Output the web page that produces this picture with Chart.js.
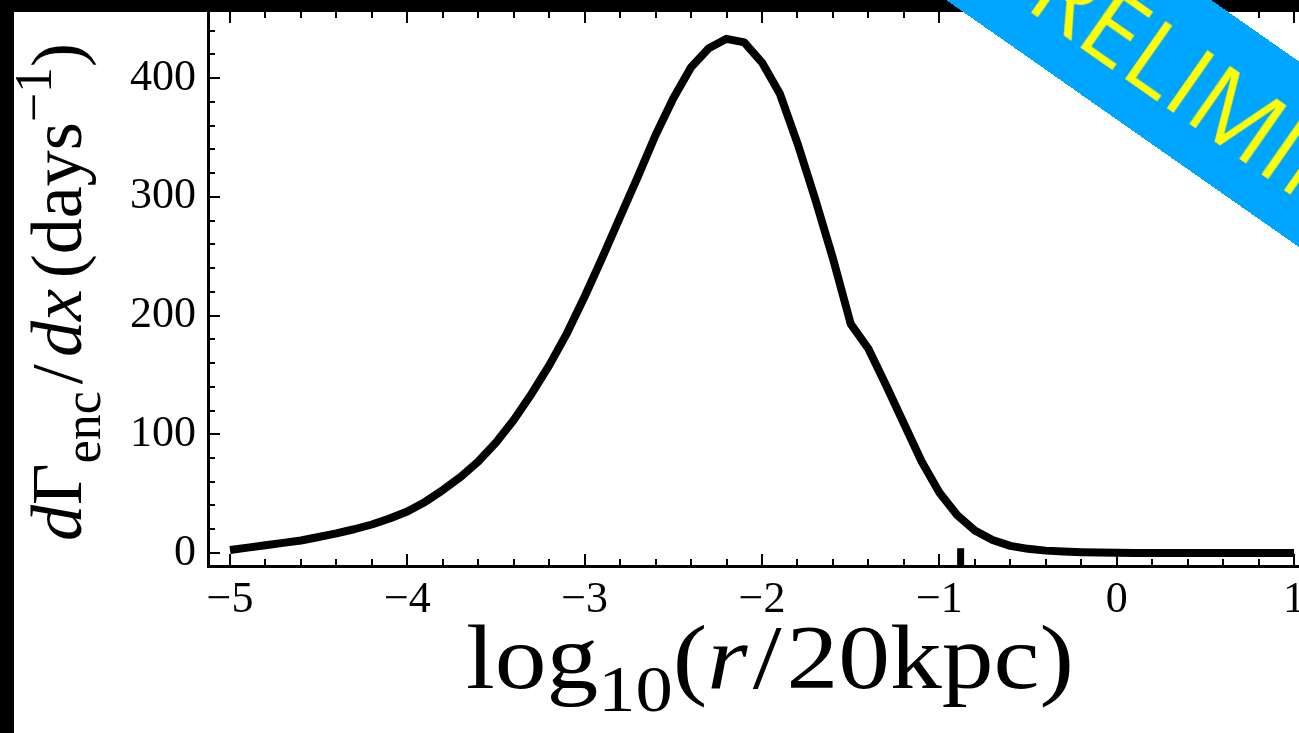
<!DOCTYPE html>
<html>
<head>
<meta charset="utf-8">
<script src="https://cdn.jsdelivr.net/npm/chart.js@4.4.1/dist/chart.umd.min.js"></script>
<style>
  html, body { margin: 0; padding: 0; width: 1299px; height: 733px; overflow: hidden; background: #000; }
  #panel { position: absolute; left: 14px; top: 12px; width: 1285px; height: 721px; background: #fff; }
  #banner {
    position: absolute; left: 1250px; top: 120px; width: 1300px; height: 152px;
    line-height: 152px; text-align: center; background: #00a5ff; color: #ffff00;
    font-family: "Open Sans", sans-serif; font-size: 98px; white-space: nowrap;
    transform: translate(-50%, -50%) rotate(35deg);
  }
</style>
</head>
<body>
<div id="panel"><canvas id="chart"></canvas></div>
<div id="banner">PRELIMINARY</div>
<script>
// log10(r/20kpc) sample points
const xValues = [
  -5.0, -4.9, -4.8, -4.7, -4.6, -4.5, -4.4, -4.3, -4.2, -4.1,
  -4.0, -3.9, -3.8, -3.7, -3.6, -3.5, -3.4, -3.3, -3.2, -3.1,
  -3.0, -2.9, -2.8, -2.7, -2.6, -2.5, -2.4, -2.3, -2.2, -2.1,
  -2.0, -1.9, -1.8, -1.7, -1.6, -1.5, -1.4, -1.3, -1.2, -1.1,
  -1.0, -0.9, -0.8, -0.7, -0.6, -0.5, -0.4, -0.3, -0.2, -0.1,
  0.0, 0.1, 0.2, 0.3, 0.4, 0.5, 0.6, 0.7, 0.8, 0.9, 1.0
];
// dGamma_enc/dx (days^-1)
const rateValues = [
  2.5, 4.5, 6.5, 8.5, 10.5, 13.5, 16.5, 20, 24, 29,
  35, 43, 53, 64, 77, 93, 112, 134, 158, 185,
  216, 249, 283, 317, 352, 383, 409, 425, 433, 430,
  413, 387, 345, 298, 248, 193, 172, 141, 109, 77,
  51, 32, 19, 11, 6, 3.5, 2, 1.2, 0.7, 0.4,
  0.2, 0.1, 0.1, 0, 0, 0, 0, 0, 0, 0, 0
];
// short thick marker sitting on the x axis
const markerX = [-0.88, -0.88];
const markerY = [-11, 4];

const xMin = -5.124, xMax = 1.028;
const yMin = -10.95, yMax = 455.6;

const serif = '"Liberation Serif", "Times New Roman", serif';

function isWhole(v) {
  return Math.abs(v - Math.round(v)) < 1e-6;
}

// inward ticks, longer on labelled values, mirrored on top edge
const tickPlugin = {
  id: 'inTicks',
  afterDraw(chart) {
    const { ctx, chartArea: a, scales: { x, y } } = chart;
    ctx.save();
    ctx.strokeStyle = '#000';
    ctx.lineWidth = 2;
    ctx.beginPath();
    x.ticks.forEach(t => {
      const px = Math.round(x.getPixelForValue(t.value));
      const major = isWhole(t.value);
      ctx.moveTo(px, a.bottom);
      ctx.lineTo(px, a.bottom - (major ? 12 : 7));
      ctx.moveTo(px, a.top);
      ctx.lineTo(px, a.top + (major ? 11 : 6));
    });
    y.ticks.forEach(t => {
      const py = Math.round(y.getPixelForValue(t.value));
      const major = Math.abs(t.value % 100) < 1e-6;
      ctx.moveTo(a.left, py);
      ctx.lineTo(a.left + (major ? 12 : 7), py);
    });
    ctx.stroke();
    ctx.restore();
  }
};

// draw a run of text pieces with sub/superscripts, centred on 0, baseline at 0
function drawRich(ctx, runs, size) {
  const parts = runs.map(r => {
    const s = (r.sub || r.sup) ? size * 0.72 : size;
    const font = (r.it ? 'italic ' : '') + s + 'px ' + serif;
    ctx.font = font;
    const w = ctx.measureText(r.t).width + (r.gap || 0) * size;
    return { r, font, w };
  });
  const total = parts.reduce((sum, p) => sum + p.w, 0);
  let cx = -total / 2;
  parts.forEach(p => {
    ctx.font = p.font;
    let dy = 0;
    if (p.r.sub) dy = size * 0.26;
    if (p.r.sup) dy = -size * 0.42;
    ctx.fillText(p.r.t, cx, dy);
    cx += p.w;
  });
}

const xTitle = [
  { t: 'log' }, { t: '10', sub: 1 }, { t: '(' }, { t: 'r', it: 1, gap: 0.05 },
  { t: '/', gap: 0.05 }, { t: '20kpc' }, { t: ')' }
];
const yTitle = [
  { t: 'd', it: 1 }, { t: '\u0393' }, { t: 'enc', sub: 1, gap: 0.1 },
  { t: '/', gap: 0.1 }, { t: 'dx', it: 1, gap: 0.15 }, { t: '(days' },
  { t: '\u22121', sup: 1 }, { t: ')' }
];

const titlePlugin = {
  id: 'richTitles',
  afterDraw(chart) {
    const { ctx } = chart;
    ctx.save();
    ctx.fillStyle = '#000';
    ctx.textBaseline = 'alphabetic';
    ctx.textAlign = 'left';
    ctx.translate(756, 676);
    ctx.scale(1.15, 1);
    drawRich(ctx, xTitle, 90);
    ctx.restore();

    ctx.save();
    ctx.fillStyle = '#000';
    ctx.textBaseline = 'alphabetic';
    ctx.textAlign = 'left';
    ctx.translate(67, 280);
    ctx.rotate(-Math.PI / 2);
    drawRich(ctx, yTitle, 72);
    ctx.restore();
  }
};

const ctx = document.getElementById('chart').getContext('2d');
new Chart(ctx, {
  type: 'scatter',
  data: {
    datasets: [
      {
        data: xValues.map((x, i) => ({ x: x, y: rateValues[i] })),
        showLine: true,
        borderColor: '#000',
        borderWidth: 8,
        borderJoinStyle: 'round',
        pointRadius: 0,
        tension: 0
      },
      {
        data: markerX.map((x, i) => ({ x: x, y: markerY[i] })),
        showLine: true,
        borderColor: '#000',
        borderWidth: 7,
        pointRadius: 0,
        clip: false
      }
    ]
  },
  options: {
    responsive: true,
    maintainAspectRatio: false,
    animation: false,
    layout: { padding: 0 },
    plugins: { legend: { display: false }, tooltip: { enabled: false } },
    scales: {
      x: {
        type: 'linear',
        min: xMin,
        max: xMax,
        grid: { display: false, drawTicks: false },
        border: { display: true, color: '#000', width: 3 },
        afterFit(scale) {
          scale.height = 167;
          scale.paddingLeft = 0;
          scale.paddingRight = 0;
        },
        ticks: {
          stepSize: 0.2,
          includeBounds: false,
          autoSkip: false,
          maxRotation: 0,
          padding: 8,
          color: '#000',
          font: { family: serif, size: 44 },
          callback: v => isWhole(v) ? (v < 0 ? '\u2212' + Math.abs(Math.round(v)) : String(Math.round(v))) : ''
        }
      },
      y: {
        type: 'linear',
        min: yMin,
        max: yMax,
        grid: { display: false, drawTicks: false },
        border: { display: true, color: '#000', width: 3 },
        afterFit(scale) {
          scale.width = 194;
          scale.paddingTop = 0;
          scale.paddingBottom = 0;
        },
        ticks: {
          stepSize: 20,
          includeBounds: false,
          autoSkip: false,
          padding: 12,
          color: '#000',
          font: { family: serif, size: 44 },
          callback: v => Math.abs(v % 100) < 1e-6 ? String(v) : ''
        }
      }
    }
  },
  plugins: [tickPlugin, titlePlugin]
});
</script>
</body>
</html>
